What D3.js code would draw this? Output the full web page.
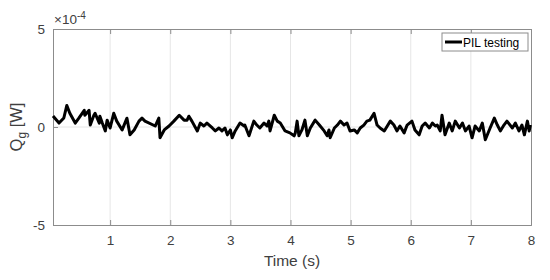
<!DOCTYPE html>
<html><head><meta charset="utf-8">
<script src="https://cdn.jsdelivr.net/npm/d3@7"></script>
<style>body{margin:0;background:#fff;} text{font-family:"Liberation Sans",Arial,sans-serif;}</style>
</head><body><svg id="c" width="550" height="280"></svg>
<script>
const time = [0.05,0.15,0.23,0.28,0.33,0.42,0.48,0.57,0.58,0.65,0.67,0.73,0.75,0.82,0.83,0.87,0.92,0.95,1.00,1.06,1.11,1.20,1.28,1.33,1.40,1.48,1.53,1.58,1.75,1.81,1.83,1.90,1.98,2.06,2.15,2.23,2.28,2.31,2.36,2.45,2.50,2.56,2.61,2.70,2.75,2.81,2.86,2.91,2.95,3.00,3.03,3.08,3.16,3.23,3.24,3.31,3.39,3.44,3.49,3.56,3.61,3.64,3.66,3.73,3.78,3.83,3.91,3.99,4.06,4.08,4.11,4.14,4.19,4.24,4.28,4.33,4.41,4.48,4.56,4.61,4.64,4.66,4.73,4.78,4.83,4.89,4.94,4.99,5.06,5.11,5.16,5.22,5.27,5.32,5.39,5.44,5.49,5.56,5.61,5.66,5.72,5.77,5.82,5.89,5.94,6.02,6.07,6.14,6.19,6.24,6.31,6.36,6.41,6.44,6.49,6.52,6.57,6.64,6.69,6.74,6.81,6.86,6.91,6.97,7.02,7.07,7.14,7.19,7.24,7.32,7.39,7.44,7.49,7.55,7.60,7.69,7.74,7.80,7.85,7.89,7.94,7.97,7.99];
const qg = [0.56,0.2,0.46,1.1,0.7,0.2,0.45,0.85,0.6,0.85,0.1,0.6,0.7,0.2,0.55,0.2,-0.2,0.35,-0.05,0.7,0.3,-0.15,0.45,-0.4,-0.15,0.3,0.45,0.3,0.05,0.45,-0.55,-0.15,0.05,0.3,0.6,0.35,0.35,0.55,0.3,-0.2,0.2,0.05,0.2,-0.05,-0.2,-0.05,-0.2,-0.05,-0.4,-0.15,-0.55,-0.2,0.2,0.05,0.1,-0.45,0.3,0.1,-0.05,0.2,0.05,0.3,-0.2,0.6,0.3,0.2,-0.2,-0.3,-0.45,-0.3,0.3,-0.45,-0.15,0.35,-0.45,-0.05,0.35,0.1,-0.2,-0.45,-0.15,-0.55,-0.05,0.1,0.3,0.1,0.2,-0.2,-0.15,-0.3,-0.05,0.1,0.3,0.35,0.7,0.1,-0.05,-0.2,0.05,0.3,0.1,-0.2,0.05,-0.3,0.1,0.3,-0.15,-0.4,0.05,0.2,-0.05,0.2,0.05,0.1,-0.2,0.6,-0.4,0.2,-0.2,0.3,-0.05,0.2,-0.2,0.05,-0.55,0.05,-0.2,0.2,-0.65,-0.05,0.45,0.1,-0.2,0.1,0.3,-0.05,0.2,-0.2,0.1,-0.4,0.3,-0.2,0.1];
const xTicks = [1,2,3,4,5,6,7,8];
const yTicks = [-5,0,5];
const seriesName = "PIL testing";

const svg = d3.select("#c");
const L=53, R=531, T=29, B=225;
const x = d3.scaleLinear().domain([0.05,8]).range([L,R]);
const y = d3.scaleLinear().domain([-5,5]).range([B,T]);
const axisCol="#8c8c8c", txtCol="#404040";

// grid
svg.append("g").selectAll("line").data(xTicks.slice(0,-1)).join("line")
  .attr("x1",d=>x(d)).attr("x2",d=>x(d)).attr("y1",T).attr("y2",B)
  .attr("stroke","#e6e6e6").attr("stroke-width",1);
svg.append("g").selectAll("line").data([0]).join("line")
  .attr("x1",L).attr("x2",R).attr("y1",d=>y(d)).attr("y2",d=>y(d))
  .attr("stroke","#e6e6e6").attr("stroke-width",1);

// axes
const gx = svg.append("g").attr("transform",`translate(0,${B})`)
  .call(d3.axisBottom(x).tickValues(xTicks).tickSize(-5).tickPadding(10).tickFormat(d3.format("d")));
const gxt = svg.append("g").attr("transform",`translate(0,${T})`)
  .call(d3.axisTop(x).tickValues(xTicks).tickSize(-5).tickFormat(""));
const gy = svg.append("g").attr("transform",`translate(${L},0)`)
  .call(d3.axisLeft(y).tickValues(yTicks).tickSize(-5).tickPadding(8).tickFormat(d=>d3.format("d")(d).replace("−","-")));
const gyr = svg.append("g").attr("transform",`translate(${R},0)`)
  .call(d3.axisRight(y).tickValues(yTicks).tickSize(-5).tickFormat(""));
[gx,gxt,gy,gyr].forEach(g=>{
  g.selectAll("path").attr("stroke",axisCol).attr("stroke-width",1);
  g.selectAll("line").attr("stroke",axisCol);
  g.selectAll("text").attr("fill",txtCol).style("font-size","13.5px").style("font-family","'Liberation Sans',Arial,sans-serif");
});

// line
const line = d3.line().x((d,i)=>x(time[i])).y(d=>y(d));
svg.append("path").datum(qg).attr("d",line).attr("fill","none")
  .attr("stroke","#000").attr("stroke-width",3).attr("stroke-linejoin","round");

// exponent
const ex = svg.append("text").attr("x",L+1).attr("y",T-5).attr("fill",txtCol).style("font-size","13.5px");
ex.append("tspan").text("\u00d710");
ex.append("tspan").attr("dy",-5).style("font-size","10px").text("-4");

// labels
svg.append("text").attr("x",(L+R)/2).attr("y",266).attr("text-anchor","middle")
  .attr("fill",txtCol).style("font-size","15.5px").text("Time (s)");
const yl = svg.append("text").attr("transform",`translate(22,${(T+B)/2}) rotate(-90)`)
  .attr("text-anchor","middle").attr("fill",txtCol).style("font-size","16.5px");
yl.append("tspan").text("Q");
yl.append("tspan").attr("dy",4).style("font-size","12px").text("g");
yl.append("tspan").attr("dy",-4).text(" [W]");

// legend
const lg = svg.append("g");
lg.append("rect").attr("x",442).attr("y",33).attr("width",86).attr("height",18)
  .attr("fill","#fff").attr("stroke","#8c8c8c").attr("stroke-width",1);
lg.append("line").attr("x1",445).attr("x2",462).attr("y1",42).attr("y2",42)
  .attr("stroke","#000").attr("stroke-width",3);
lg.append("text").attr("x",463).attr("y",46.5).attr("fill","#000").style("font-size","12px").text(seriesName);
</script></body></html>
